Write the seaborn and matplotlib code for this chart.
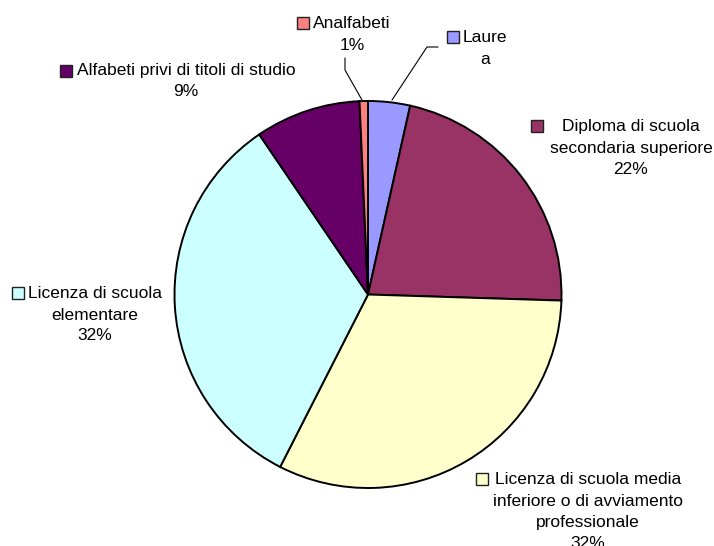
import matplotlib
matplotlib.use("Agg")
import matplotlib.pyplot as plt
from matplotlib.patches import Rectangle
import seaborn as sns

# ---- data ----
categories = ["Laurea", "Diploma di scuola secondaria superiore",
              "Licenza di scuola media inferiore o di avviamento professionale",
              "Licenza di scuola elementare",
              "Alfabeti privi di titoli di studio", "Analfabeti"]
values = [3.5, 22.0, 32.0, 33.0, 8.8, 0.7]
colors = ["#9999FF", "#993366", "#FFFFCC", "#CCFFFF", "#660066", "#FF8080"]
label_lines = [
    ["Laure", "a"],
    ["Diploma di scuola", "secondaria superiore", "22%"],
    ["Licenza di scuola media", "inferiore o di avviamento", "professionale", "32%"],
    ["Licenza di scuola", "elementare", "32%"],
    ["Alfabeti privi di titoli di studio", "9%"],
    ["Analfabeti", "1%"],
]

sns.set_style("white")
plt.rcParams["font.family"] = ["Liberation Sans", "DejaVu Sans"]

W, H = 714, 546
fig = plt.figure(figsize=(W / 100, H / 100), dpi=100)
ax = fig.add_axes([0, 0, 1, 1])

def Y(y):
    return H - y

cx, cy, r = 368, 294.5, 193.5
ax.pie(values, colors=colors, startangle=90, counterclock=False,
       center=(cx, Y(cy)), radius=r, frame=True,
       wedgeprops=dict(edgecolor="black", linewidth=1.4))
ax.set_xlim(0, W)
ax.set_ylim(0, H)
ax.set_aspect("equal")
ax.axis("off")

# label layout: (text center x, first line y, line spacing, key box x, key box y)
layout = [
    (485, 38, 21, 447, 37),
    (631, 127, 21, 531, 126),
    (588, 480, 21, 476, 479),
    (95, 294, 21, 12, 293),
    (186, 71, 21, 60, 71),
    (352, 23, 22, 297, 23),
]
for lines, col, (tx, ty, dy, bx, by) in zip(label_lines, colors, layout):
    for i, ln in enumerate(lines):
        ax.text(tx, Y(ty + i * dy), ln, ha="center", va="center",
                fontsize=12.5, color="black")
    ax.add_patch(Rectangle((bx, Y(by) - 6), 12, 12, facecolor=col,
                           edgecolor="#222222", linewidth=1.0))

# leader lines
ax.plot([362, 345, 345], [Y(100), Y(70), Y(58)], color="black", lw=0.8)
ax.plot([392, 427, 438], [Y(100), Y(47), Y(47)], color="black", lw=0.8)

fig.savefig("out.png", dpi=100)
